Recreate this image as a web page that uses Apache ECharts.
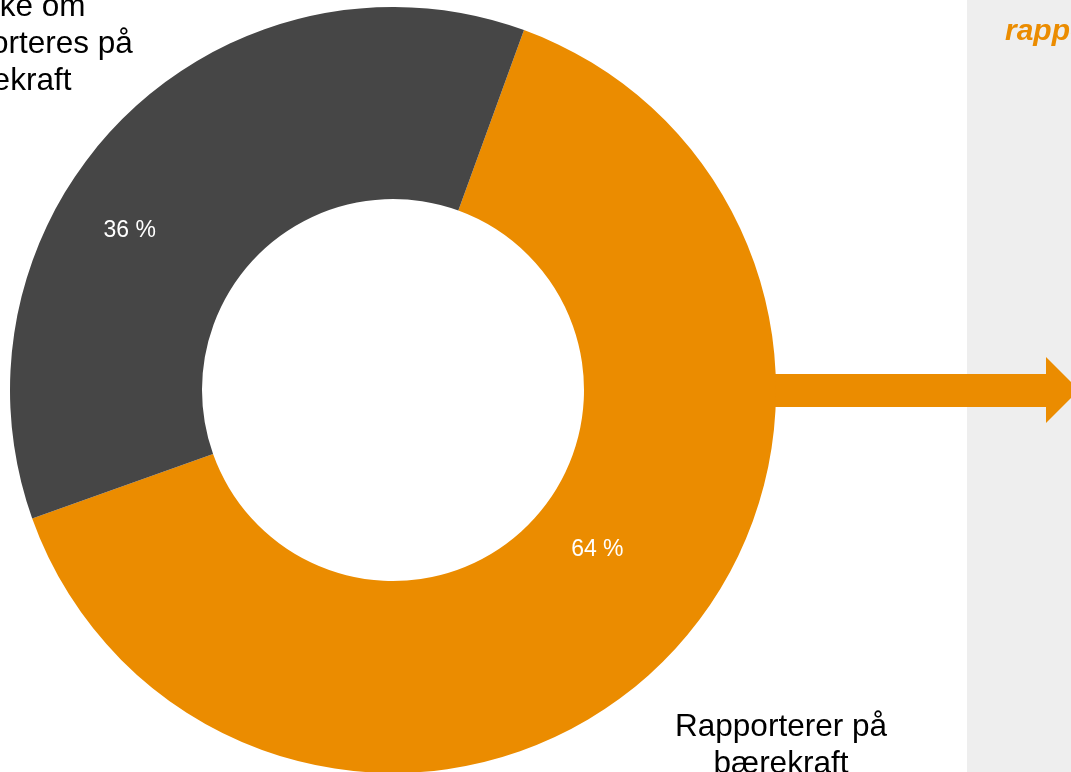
<!DOCTYPE html>
<html>
<head>
<meta charset="utf-8">
<script src="https://cdn.jsdelivr.net/npm/echarts@6/dist/echarts.min.js"></script>
<style>
  html, body { margin: 0; padding: 0; background: #fff; }
  #chart { width: 1071px; height: 772px; }
</style>
</head>
<body>
<div id="chart"></div>
<script>
// data
const categories = ['Rapporterer på\nbærekraft', 'Vet ikke om\ndet rapporteres på\nbærekraft'];
const values = [64, 36];
const colors = ['#EB8C00', '#464646'];
const panelTitle = 'rapporterer på bærekraft';

const font = "'Liberation Sans', Arial, sans-serif";

const chart = echarts.init(document.getElementById('chart'));

const option = {
    animation: false,
    backgroundColor: '#ffffff',
    graphic: [
        // grey side panel
        {
            type: 'rect', z: 0,
            shape: { x: 967, y: 0, width: 200, height: 772 },
            style: { fill: '#EEEEEE' }
        },
        {
            type: 'text', z: 1,
            x: 1005, y: 17,
            style: {
                text: panelTitle, fill: '#EB8C00', font: 'italic bold 30px ' + font,
                textVerticalAlign: 'alphabetic'
            }
        },
        // arrow
        {
            type: 'polygon', z: 1,
            shape: { points: [[770, 374], [1046, 374], [1046, 357], [1079, 390], [1046, 423], [1046, 407], [770, 407]] },
            style: { fill: '#EB8C00' }
        },
        // category labels
        {
            type: 'text', z: 5,
            x: 781, y: 709,
            style: {
                text: categories[0], fill: '#000', font: '31.5px ' + font,
                textAlign: 'center', textVerticalAlign: 'top', lineHeight: 37
            }
        },
        {
            type: 'text', z: 5,
            x: 4, y: -11,
            style: {
                text: categories[1], fill: '#000', font: '31.5px ' + font,
                textAlign: 'center', textVerticalAlign: 'top', lineHeight: 37
            }
        }
    ],
    series: [
        {
            type: 'pie',
            center: [393, 390],
            radius: [191, 383],
            startAngle: 70,
            clockwise: true,
            silent: true,
            z: 3,
            label: {
                show: true,
                position: 'inside',
                formatter: '{c} %',
                color: '#ffffff',
                fontSize: 23,
                fontFamily: font
            },
            labelLine: { show: false },
            data: values.map((v, i) => ({
                value: v,
                name: categories[i],
                itemStyle: { color: colors[i] },
                label: { offset: i === 0 ? [0, -46] : [-59, 46] }
            }))
        }
    ]
};

chart.setOption(option);
</script>
</body>
</html>
